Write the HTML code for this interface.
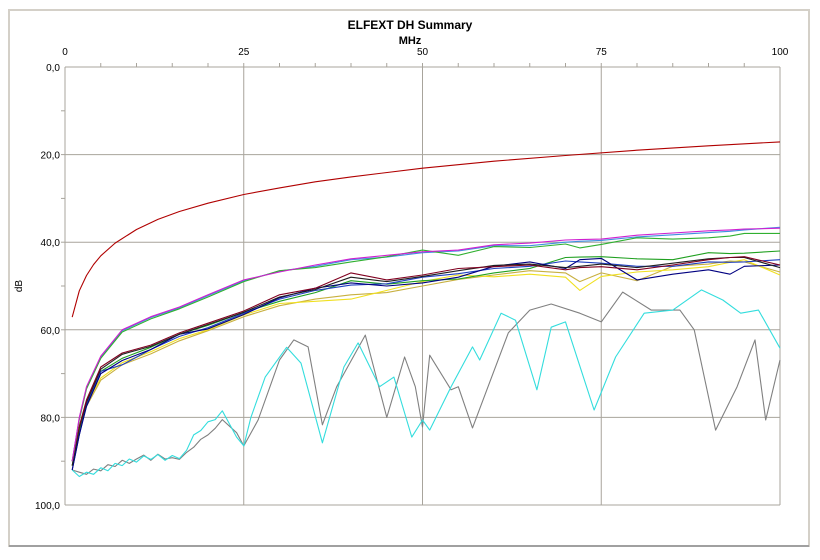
<!DOCTYPE html>
<html><head><meta charset="utf-8">
<style>
html,body{margin:0;padding:0;background:#fff;}
#wrap{position:relative;width:820px;height:560px;overflow:hidden;font-family:"Liberation Sans",Arial,sans-serif;}
svg text{font-family:"Liberation Sans",Arial,sans-serif;}
</style></head>
<body>
<div id="wrap">
<svg id="chart" width="820" height="560" xmlns="http://www.w3.org/2000/svg">
  <rect x="9" y="10" width="800" height="536" fill="#fff" stroke="#d4d0c8" stroke-width="2"/>
  <line x1="9" y1="546" x2="809" y2="546" stroke="#a0a0a0" stroke-width="2"/>
  <text x="410" y="29" font-size="12" font-weight="bold" text-anchor="middle">ELFEXT DH Summary</text>
  <text x="410" y="44" font-size="11" font-weight="bold" text-anchor="middle">MHz</text>
  <text x="22" y="286" font-size="10" text-anchor="middle" transform="rotate(-90 22 286)">dB</text>
  <g id="grid"></g>
  <g id="series"></g>
</svg>
</div>
<script>
const xTicks = [0, 25, 50, 75, 100];
const yTicks = [0, 20, 40, 60, 80, 100];
const yTickLabels = ["0,0", "20,0", "40,0", "60,0", "80,0", "100,0"];

const limitF = [1, 2, 3, 4, 5, 7, 10, 13, 16, 20, 25, 30, 35, 40, 50, 60, 70, 80, 90, 100];
const limitDb = [57.1, 51.1, 47.6, 45.1, 43.1, 40.2, 37.1, 34.8, 33.0, 31.1, 29.1, 27.6, 26.2, 25.1, 23.1, 21.5, 20.2, 19.0, 18.0, 17.1];

const fA = [1, 2, 3, 5, 8, 12, 16, 20, 25, 30, 35, 40, 45, 50, 55, 60, 65, 70, 72, 75, 80, 85, 90, 93, 95, 100];
const magentaDb = [90, 80, 73, 66, 60, 57, 54.8, 52, 48.6, 46.8, 45.2, 43.8, 43, 42.2, 41.8, 40.6, 40.2, 39.5, 39.4, 39.3, 38.4, 37.9, 37.4, 37.2, 37, 36.8];
const greenDb =   [90, 80.5, 73.5, 66.5, 60.5, 57.5, 55.2, 52.5, 49, 46.5, 45.8, 44.5, 43.3, 41.8, 43, 41, 41.2, 40.4, 41.3, 40.5, 39, 39.3, 39, 38.6, 38, 38];
const cyanUpDb =  [90, 80.2, 73.2, 66.2, 60.2, 57.2, 55, 52.2, 48.8, 46.6, 45.5, 44, 43.4, 42.4, 42, 40.8, 40.8, 40, 39.8, 39.6, 38.8, 38.3, 37.8, 37.5, 37.2, 36.6];

const darkredDb = [90, 82, 76, 68.5, 65.3, 63.5, 60.7, 58.5, 55.7, 52, 50.5, 47, 48.6, 47.5, 46, 45.6, 45.2, 46.3, 45.8, 45.6, 46.3, 45.2, 44, 43.5, 43.3, 45.2];
const blackDb =   [91, 82.5, 76.5, 69, 65.6, 63.8, 61, 58.8, 56, 52.5, 50.8, 48, 49, 47.8, 46.5, 45.3, 45, 45.8, 45.5, 45, 45.8, 44.8, 43.8, 43.5, 43.5, 45.8];
const navyDb =    [92, 84, 77.5, 70, 67, 64.5, 61, 59.8, 56.5, 52.7, 50.5, 49.3, 50, 49.3, 48, 45.5, 44.5, 46, 44, 43.7, 48.6, 47.3, 46.3, 47.3, 45.5, 45.2];
const blueDb =    [92, 84, 77, 69.5, 68, 64.5, 61.5, 59.5, 56.2, 53, 51, 49.8, 49.5, 48, 47.2, 46, 45.5, 44.3, 44.5, 44.8, 45.5, 45.5, 44.5, 44.6, 44.5, 44];
const green2Db =  [91, 83, 77, 69.5, 66.5, 64, 61, 59, 56, 53.5, 51.5, 48.8, 49.6, 48.8, 48.4, 47, 46, 43.5, 43.4, 43.3, 43.8, 44, 42.4, 42.6, 42.5, 42];
const yellowDb =  [90, 82, 77, 71, 67.5, 65, 62, 60, 56.6, 54, 53.5, 53, 51, 49, 47.5, 47.9, 47.3, 48, 51, 47.8, 46.8, 46.3, 45.6, 44.6, 44, 47.5];
const khakiDb =   [91, 83, 77.5, 71.5, 68, 65.5, 62.5, 60.2, 57, 54.5, 53, 52, 51.5, 50, 48.5, 47.5, 46.5, 47, 49, 47, 48.8, 45.5, 45, 44.3, 44.5, 46.8];

const fCyan = [1, 2, 3, 4, 5, 6, 7, 8, 9, 10, 11, 12, 13, 14, 15, 16, 17, 18, 19, 20, 21, 22, 23, 24, 25, 26, 28, 31, 33, 36, 39, 41, 44, 46, 48.5, 50, 51, 54, 57, 58, 61, 63, 66, 68, 70, 74, 77, 81, 85, 89, 92, 94.5, 97, 100];
const cyanLowDb = [92, 93.5, 92.5, 93, 91.5, 92.2, 90.5, 91, 89.5, 90.2, 88.8, 89.6, 88.5, 89.8, 88.7, 89.4, 87.5, 84, 83, 81, 80.5, 78.5, 81.5, 84.5, 86.5, 80, 70.8, 64, 67.6, 85.8, 68.5, 63, 73, 70.8, 84.5, 80.6, 82.9, 73, 63.9, 66.9, 56.2, 57.8, 73.7, 59.4, 58.2, 78.3, 66.2, 56.2, 55.5, 50.9, 53.2, 56.2, 55.5, 64.2];

const fGray = [1, 2, 3, 4, 5, 6, 7, 8, 9, 10, 11, 12, 13, 14, 15, 16, 17, 18, 19, 20, 21, 22, 23, 24, 25, 27, 30, 32, 34, 36, 38, 42, 45, 47.5, 49, 50, 51, 54, 55, 57, 62, 65, 68, 72, 75, 78, 82, 86, 88, 91, 94, 96.5, 98, 100];
const grayDb = [92, 92.5, 93, 91.8, 92.2, 90.8, 91.2, 89.8, 90.5, 89.5, 88.6, 89.8, 88.4, 89.5, 89.2, 89.6, 88, 86.8, 85, 84, 82.5, 80.5, 82, 83.5, 86.5, 80.6, 66.9, 62.3, 63.9, 81.7, 73, 61.2, 80, 66.2, 73, 82.2, 65.8, 73.7, 73, 82.4, 60.7, 55.5, 54.1, 56.2, 58.2, 51.4, 55.5, 55.5, 60, 82.9, 73, 62.3, 80.6, 66.9];

const X0 = 65, X1 = 780, Y0 = 67, Y1 = 505;
function xScale(f){ return X0 + (f / 100) * (X1 - X0); }
function yScale(d){ return Y0 + (d / 100) * (Y1 - Y0); }

const NS = "http://www.w3.org/2000/svg";
const grid = document.getElementById('grid');
const series = document.getElementById('series');
function mk(tag, attrs, parent){
  const e = document.createElementNS(NS, tag);
  for (const k in attrs) e.setAttribute(k, attrs[k]);
  parent.appendChild(e);
  return e;
}

// gridlines
xTicks.forEach(function(t){
  if (t === 0) return;
  const l = mk('line', {x1: xScale(t), y1: Y0, x2: xScale(t), y2: Y1, stroke: '#a8a49c', 'stroke-width': 1}, grid);
  
  
});
yTicks.forEach(function(t){
  if (t === 0) return;
  const l = mk('line', {x1: X0, y1: yScale(t), x2: X1, y2: yScale(t), stroke: '#a8a49c', 'stroke-width': 1}, grid);
  
  
});
// axes
const ax = mk('line', {x1: X0, y1: Y0, x2: X1, y2: Y0, stroke: '#a8a49c', 'stroke-width': 1}, grid);


const ay = mk('line', {x1: X0, y1: Y0, x2: X0, y2: Y1, stroke: '#a8a49c', 'stroke-width': 1}, grid);


// minor ticks
for (let f = 5; f < 100; f += 5) {
  const tk = mk('line', {x1: xScale(f), y1: Y0 - 4, x2: xScale(f), y2: Y0, stroke: '#a8a49c'}, grid);
  
  
}
for (let d = 10; d < 100; d += 10) {
  const tk = mk('line', {x1: X0 - 4, y1: yScale(d), x2: X0, y2: yScale(d), stroke: '#a8a49c'}, grid);
  
  
}
xTicks.forEach(function(t){
  const tx = mk('text', {x: xScale(t), y: 55, 'font-size': 10, 'text-anchor': 'middle', fill: '#000'}, grid);
  tx.textContent = String(t);
  
  
});
yTicks.forEach(function(t, i){
  const tx = mk('text', {x: X0 - 5, y: yScale(t) + 4, 'font-size': 10, 'text-anchor': 'end', fill: '#000'}, grid);
  tx.textContent = yTickLabels[i];
  
  
});

function drawLine(fs, ds, color, name){
  const pts = fs.map(function(f, i){ return xScale(f).toFixed(1) + ',' + yScale(ds[i]).toFixed(1); }).join(' ');
  const p = mk('polyline', {points: pts, fill: 'none', stroke: color, 'stroke-width': 1.1, 'stroke-linejoin': 'round'}, series);
  
  
}
drawLine(fGray, grayDb, '#808080', 'series-gray');
drawLine(fCyan, cyanLowDb, '#33dddd', 'series-cyan-low');
drawLine(fA, khakiDb, '#c8b040', 'series-khaki');
drawLine(fA, yellowDb, '#f0e020', 'series-yellow');
drawLine(fA, green2Db, '#20a020', 'series-green-mid');
drawLine(fA, blueDb, '#2040c0', 'series-blue');
drawLine(fA, navyDb, '#000080', 'series-navy');
drawLine(fA, blackDb, '#202020', 'series-black');
drawLine(fA, darkredDb, '#800020', 'series-darkred');
drawLine(fA, cyanUpDb, '#4090e0', 'series-blue-upper');
drawLine(fA, greenDb, '#30b030', 'series-green-upper');
drawLine(fA, magentaDb, '#d020d0', 'series-magenta');
drawLine(limitF, limitDb, '#b00000', 'limit-line');
</script>
</body></html>
